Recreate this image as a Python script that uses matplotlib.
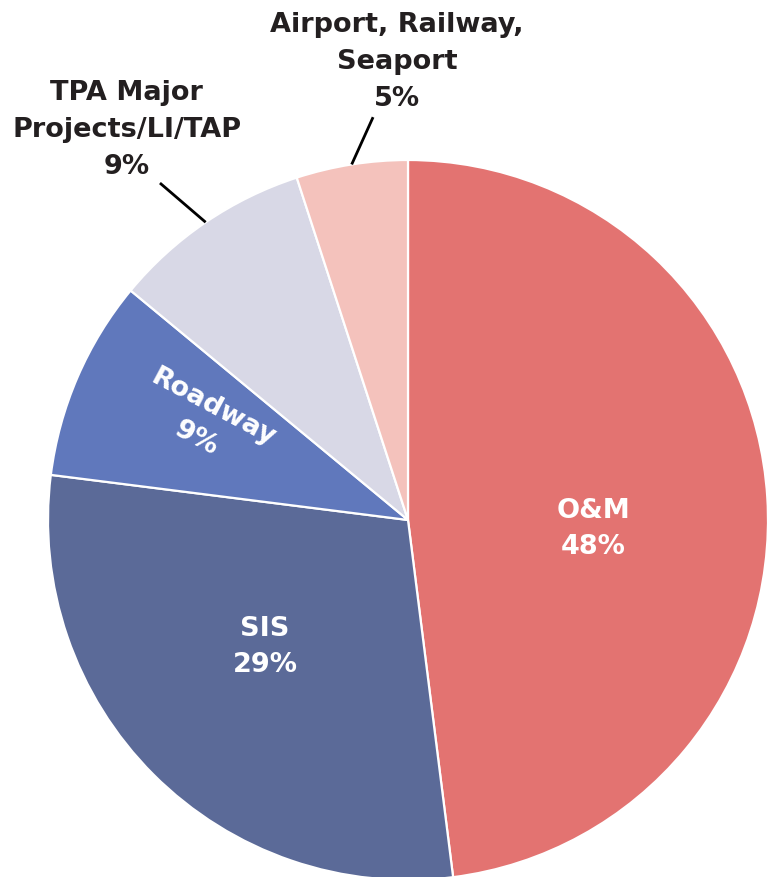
import numpy as np
import matplotlib
matplotlib.use("Agg")
import matplotlib.pyplot as plt

# Funding shares by program category
categories = ["O&M", "SIS", "Roadway", "TPA Major\nProjects/LI/TAP", "Airport, Railway,\nSeaport"]
shares = [48, 29, 9, 9, 5]
colors = ["#E37371", "#5B6A98", "#6078BC", "#D8D8E6", "#F4C2BC"]

plt.rcParams["font.family"] = ["DejaVu Sans"]

fig = plt.figure(figsize=(7.74, 8.77), dpi=100)
ax = fig.add_axes([0, 0, 1, 1])

wedges, _ = ax.pie(shares, colors=colors, startangle=90, counterclock=False,
                   radius=1.0, center=(0, 0),
                   wedgeprops=dict(edgecolor="white", linewidth=1.6))

ax.set_xlim(-408 / 360, (774 - 408) / 360)
ax.set_ylim((520 - 877) / 360, 520 / 360)
ax.set_aspect("equal")
ax.axis("off")

fs = 19.5
dark = "#231F20"

def label_text(i):
    return f"{categories[i]}\n{shares[i]}%"

# Inside labels
ax.text(0.514, -0.025, label_text(0), ha="center", va="center", color="white",
        fontsize=fs, fontweight="bold", linespacing=1.5)
ax.text(-0.397, -0.353, label_text(1), ha="center", va="center", color="white",
        fontsize=fs, fontweight="bold", linespacing=1.5)
ax.text(-0.565, 0.27, label_text(2), ha="center", va="center", color="white",
        fontsize=fs, fontweight="bold", linespacing=1.45, rotation=-28,
        rotation_mode="anchor")

# Outside labels with leader lines
def mid_point(w, r=1.0):
    a = np.deg2rad((w.theta1 + w.theta2) / 2)
    return r * np.cos(a), r * np.sin(a)

x0, y0 = mid_point(wedges[3])
ax.plot([x0, -0.689], [y0, 0.936], color="black", lw=2, solid_capstyle="butt")
ax.text(-0.781, 1.083, label_text(3), ha="center", va="center", color=dark,
        fontsize=fs, fontweight="bold", linespacing=1.55)

x0, y0 = mid_point(wedges[4])
ax.plot([x0, -0.097], [y0, 1.119], color="black", lw=2, solid_capstyle="butt")
ax.text(-0.031, 1.272, label_text(4), ha="center", va="center", color=dark,
        fontsize=fs, fontweight="bold", linespacing=1.55)

fig.savefig("out.png", dpi=100, facecolor="white")
